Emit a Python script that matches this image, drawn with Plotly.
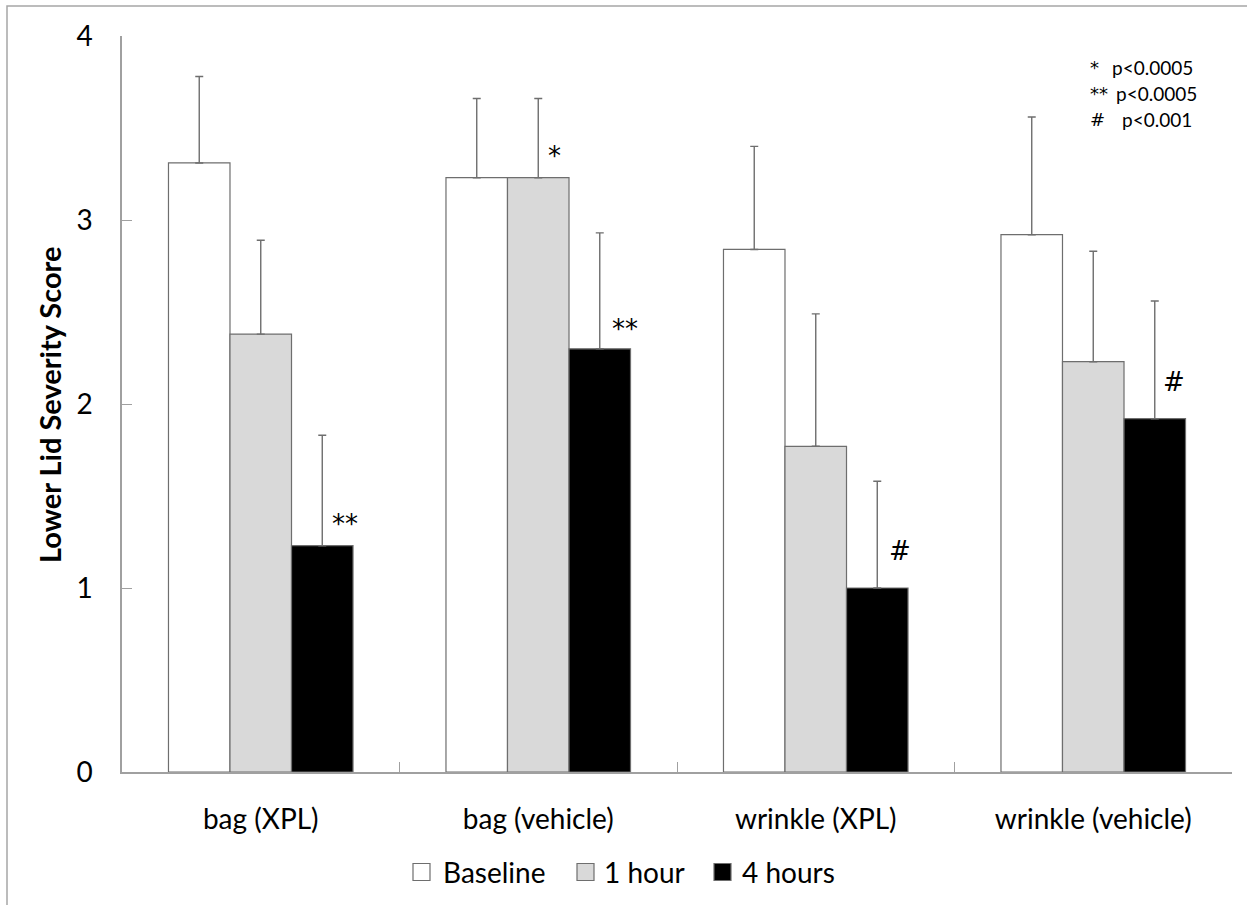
import plotly.graph_objects as go

categories = ["bag (XPL)", "bag (vehicle)", "wrinkle (XPL)", "wrinkle (vehicle)"]
series_names = ["Baseline", "1 hour", "4 hours"]
baseline = [3.31, 3.23, 2.84, 2.92]
baseline_sd = [0.47, 0.43, 0.56, 0.64]
hour1 = [2.38, 3.23, 1.77, 2.23]
hour1_sd = [0.51, 0.43, 0.72, 0.60]
hour4 = [1.23, 2.30, 1.00, 1.92]
hour4_sd = [0.60, 0.63, 0.58, 0.64]

# significance markers
sig_cats = ["bag (vehicle)", "bag (XPL)", "bag (vehicle)", "wrinkle (XPL)", "wrinkle (vehicle)"]
sig_text = ["*", "**", "**", "#", "#"]
sig_y = [3.35, 1.35, 2.41, 1.20, 2.12]
sig_dx = [16, 84, 87, 84, 81]

pvalue_syms = ["*", "**", "#"]
pvalue_txt = ["p<0.0005", "p<0.0005", "p<0.001"]

FONT = "Lato, 'Open Sans', sans-serif"
SYMFONT = "'DejaVu Sans', sans-serif"
EDGE = "#6e6e6e"
fills = ["#ffffff", "#d9d9d9", "#000000"]

fig = go.Figure()
for name, vals, sd, col in zip(series_names, [baseline, hour1, hour4],
                               [baseline_sd, hour1_sd, hour4_sd], fills):
    fig.add_trace(go.Bar(
        x=categories, y=vals, name=name, showlegend=False,
        marker=dict(color=col, line=dict(color=EDGE, width=1.2)),
        error_y=dict(type="data", symmetric=False, array=sd,
                     arrayminus=[0] * len(sd), color=EDGE, thickness=1.4, width=4),
    ))

for c, t, yv, dx in zip(sig_cats, sig_text, sig_y, sig_dx):
    fig.add_annotation(x=c, y=yv, text=t, showarrow=False, xshift=dx,
                       font=dict(family=SYMFONT, size=26, color="black"),
                       xref="x", yref="y")

# pixel -> paper helpers
L = 122
W = 1110
T = 36
H = 736
def px(xp):
    return (xp - L) / W
def py(yp):
    return (T + H - yp) / H

# p-value key (top right)
key_y = [67, 93, 119]
key_px = [1110, 1114, 1120]
for s, t, yy, xx in zip(pvalue_syms, pvalue_txt, key_y, key_px):
    fig.add_annotation(x=px(1088), y=py(yy), text=s, showarrow=False, xref="paper", yref="paper",
                       xanchor="left", yanchor="middle",
                       font=dict(family=SYMFONT, size=18, color="black"))
    fig.add_annotation(x=px(xx), y=py(yy), text=t, showarrow=False, xref="paper", yref="paper",
                       xanchor="left", yanchor="middle",
                       font=dict(family=FONT, size=19, color="black"))

# y-axis title
fig.add_annotation(x=px(50), y=py(405), text="<b>Lower Lid Severity Score</b>", textangle=-90,
                   showarrow=False, xref="paper", yref="paper", xanchor="center", yanchor="middle",
                   font=dict(family=FONT, size=29, color="black"))

# legend (drawn manually to match box size)
leg_box_x = [413, 577, 714]
leg_txt_x = [441, 602, 740]
leg_y = 872
for name, col, bx, tx in zip(series_names, fills, leg_box_x, leg_txt_x):
    fig.add_shape(type="rect", xref="paper", yref="paper",
                  x0=px(bx), x1=px(bx + 17), y0=py(leg_y + 8.5), y1=py(leg_y - 8.5),
                  line=dict(color=EDGE, width=1.2), fillcolor=col)
    fig.add_annotation(x=px(tx), y=py(leg_y), text=name, showarrow=False, xref="paper", yref="paper",
                       xanchor="left", yanchor="middle",
                       font=dict(family=FONT, size=28, color="black"))

# chart frame
fig.add_shape(type="rect", xref="paper", yref="paper",
              x0=px(7), y0=py(925), x1=px(1265), y1=py(6),
              line=dict(color="#a6a6a6", width=1.5), fillcolor="rgba(0,0,0,0)", layer="below")

fig.update_layout(
    width=1247, height=905,
    margin=dict(l=L, r=1247 - L - W, t=T, b=905 - T - H),
    paper_bgcolor="white", plot_bgcolor="white",
    barmode="group", bargap=0.335, bargroupgap=0,
    font=dict(family=FONT, color="black"),
    xaxis=dict(showline=True, linecolor="#a0a0a0", linewidth=1.5, ticks="inside", ticklen=10,
               tickcolor="#a0a0a0", tickson="boundaries", showgrid=False,
               tickfont=dict(family=FONT, size=28, color="black"), ticklabelstandoff=22),
    yaxis=dict(range=[0, 4], dtick=1, showline=True, linecolor="#a0a0a0", linewidth=1.5,
               ticks="inside", ticklen=10, tickcolor="#a0a0a0", showgrid=False, zeroline=False,
               tickfont=dict(family=FONT, size=28, color="black"), ticklabelstandoff=22),
)

fig.write_html("out.html")
